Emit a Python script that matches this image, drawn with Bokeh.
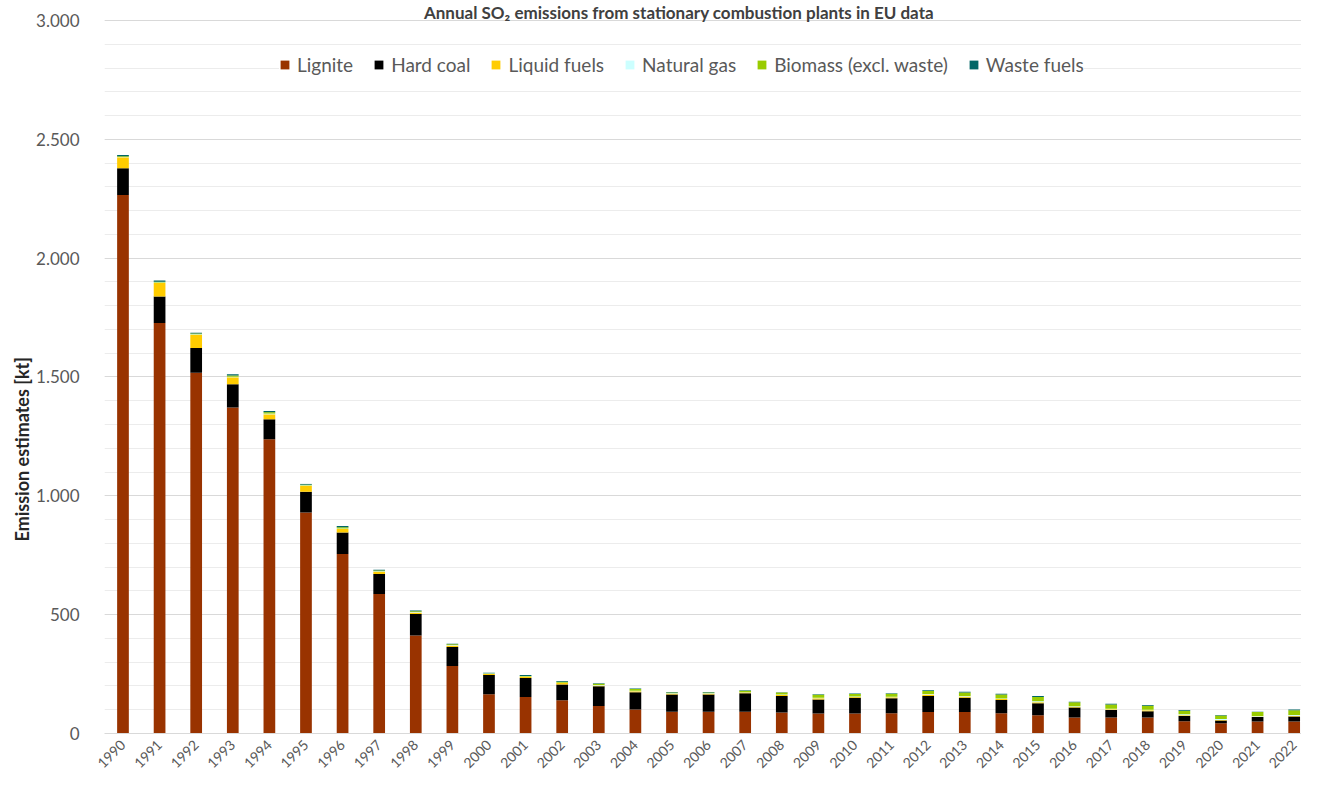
import math
from bokeh.plotting import figure
from bokeh.models import (ColumnDataSource, Range1d, FixedTicker, Legend, Title)
from bokeh.core.properties import value
from bokeh.embed import file_html
from bokeh.resources import INLINE

title_text = "Annual SO\u2082 emissions from stationary combustion plants in EU data"
y_axis_title = "Emission estimates [kt]"

years = list(range(1990, 2023))
series_names = ["Lignite", "Hard coal", "Liquid fuels", "Natural gas",
                "Biomass (excl. waste)", "Waste fuels"]
colors = ["#993300", "#000000", "#FFCC00", "#CCFFFF", "#99CC00", "#006666"]

lignite = [2266, 1727, 1518, 1372, 1238, 930, 755, 587, 412, 284,
           165, 154, 140, 116, 101, 91, 91, 91, 88, 84,
           84, 85, 90, 90, 85, 77, 67, 67, 67, 52,
           43, 50, 50]
hard_coal = [112, 112, 104, 97, 84, 87, 91, 84, 91, 80,
             81, 80, 66, 83, 73, 73, 73, 78, 70, 59,
             66, 63, 68, 60, 56, 50, 42, 32, 27, 22,
             12, 19, 21]
liquid_fuels = [46, 56, 56, 30, 21, 25, 14, 10, 6, 6,
                4, 5, 6, 3, 4, 3, 3, 3, 4, 5,
                4, 5, 6, 6, 4, 5, 4, 3, 4, 3,
                2, 3, 4]
natural_gas = [2, 2, 2, 2, 3, 2, 3, 2, 2, 2,
               2, 1, 2, 2, 2, 2, 2, 2, 2, 2,
               2, 2, 2, 2, 2, 4, 2, 2, 2, 4,
               4, 2, 3]
biomass = [3, 4, 3, 5, 6, 3, 5, 3, 3, 3,
           2, 2, 4, 5, 7, 4, 4, 6, 8, 13,
           10, 12, 13, 15, 17, 18, 16, 18, 17, 15,
           15, 16, 20]
waste_fuels = [5, 5, 3, 5, 5, 3, 5, 3, 3, 3,
               2, 4, 3, 2, 2, 2, 2, 2, 2, 2,
               2, 2, 3, 3, 3, 4, 3, 3, 3, 3,
               2, 2, 3]

y_ticks = [0, 500, 1000, 1500, 2000, 2500, 3000]
y_tick_labels = ["0", "500", "1.000", "1.500", "2.000", "2.500", "3.000"]
y_minor = list(range(0, 3001, 100))

FONT = "Lato"
GRAY = "#595959"

source = ColumnDataSource(data=dict(
    year=years,
    **{series_names[0]: lignite, series_names[1]: hard_coal,
       series_names[2]: liquid_fuels, series_names[3]: natural_gas,
       series_names[4]: biomass, series_names[5]: waste_fuels}))

# frame: 0 kt at 735 px, 3000 kt at 20 px from the top of the canvas
p = figure(width=1301, height=775, output_backend="svg", toolbar_location=None,
           x_range=Range1d(1989.495, 2022.2), y_range=Range1d(0, 3084),
           min_border_left=104, min_border_right=0, min_border_top=0,
           min_border_bottom=40)
p.outline_line_color = None
p.background_fill_color = "white"
p.border_fill_color = "white"

renderers = p.vbar_stack(series_names, x="year", width=0.32, color=colors,
                         source=source, line_width=0)

# grid
p.xgrid.grid_line_color = None
p.ygrid.grid_line_color = "#d9d9d9"
p.ygrid.grid_line_width = 1
p.ygrid.minor_grid_line_color = "#ececec"
p.ygrid.minor_grid_line_width = 1
p.ygrid.level = "underlay"

# axes
p.yaxis.ticker = FixedTicker(ticks=y_ticks, minor_ticks=y_minor)
p.yaxis.major_label_overrides = {t: l for t, l in zip(y_ticks, y_tick_labels)}
p.yaxis.axis_line_color = None
p.yaxis.major_tick_line_color = None
p.yaxis.minor_tick_line_color = None
p.yaxis.major_label_text_font = FONT
p.yaxis.major_label_text_font_size = "17px"
p.yaxis.major_label_text_color = GRAY
p.yaxis.major_label_standoff = 19

p.xaxis.ticker = FixedTicker(ticks=years)
p.xaxis.major_label_orientation = math.pi / 4
p.xaxis.axis_line_color = "#d9d9d9"
p.xaxis.major_tick_line_color = None
p.xaxis.minor_tick_line_color = None
p.xaxis.major_label_text_font = FONT
p.xaxis.major_label_text_font_size = "14px"
p.xaxis.major_label_text_color = GRAY
p.xaxis.major_label_standoff = 3

# y-axis title as a side title, shifted along the axis
p.add_layout(Title(text=y_axis_title, align="left", offset=192,
                   text_font=FONT, text_font_size="18px",
                   text_font_style="bold", text_color="#262626",
                   standoff=2), "left")

# chart title along the top edge
p.text(x=[(p.x_range.start + p.x_range.end) / 2], y=[p.y_range.end],
       text=[title_text], text_align="center", text_baseline="top",
       x_offset=-24, y_offset=1,
       text_font=value(FONT), text_font_size="17px", text_font_style="bold",
       text_color="#404040")

legend = Legend(items=[(n, [r]) for n, r in zip(series_names, renderers)],
                orientation="horizontal", location=(175, 657))
legend.label_text_font = FONT
legend.label_text_font_size = "19px"
legend.label_text_color = GRAY
legend.glyph_width = 11
legend.glyph_height = 11
legend.label_standoff = 7
legend.spacing = 20
legend.padding = 4
legend.margin = 0
legend.border_line_color = None
legend.background_fill_color = "white"
legend.background_fill_alpha = 1.0
p.add_layout(legend, "center")

open("out.html", "w").write(file_html(p, INLINE))
